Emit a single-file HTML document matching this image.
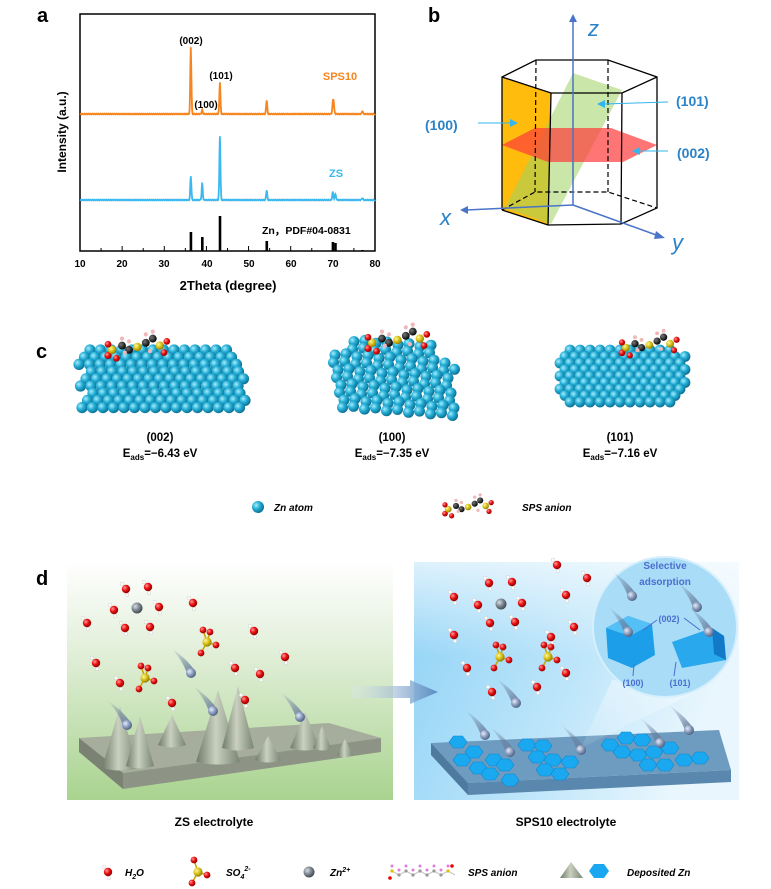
<!DOCTYPE html>
<html><head><meta charset="utf-8">
<style>
html,body{margin:0;padding:0;background:#fff;}
svg{display:block;font-family:"Liberation Sans",Arial,sans-serif;}
</style></head>
<body>
<svg id="s" width="771" height="889" viewBox="0 0 771 889" xmlns="http://www.w3.org/2000/svg">
<defs>
<radialGradient id="zn" cx="0.35" cy="0.35" r="0.7"><stop offset="0" stop-color="#a8ecfb"/><stop offset="0.45" stop-color="#26b0d8"/><stop offset="1" stop-color="#0a6a8c"/></radialGradient>
<radialGradient id="gz" cx="0.35" cy="0.35" r="0.7"><stop offset="0" stop-color="#d8dde4"/><stop offset="0.5" stop-color="#7f8892"/><stop offset="1" stop-color="#3c434c"/></radialGradient>
<radialGradient id="bz" cx="0.35" cy="0.35" r="0.7"><stop offset="0" stop-color="#e6ecf8"/><stop offset="0.5" stop-color="#8d9fc0"/><stop offset="1" stop-color="#4b5b7c"/></radialGradient>
<radialGradient id="ro" cx="0.35" cy="0.35" r="0.7"><stop offset="0" stop-color="#ff9a9a"/><stop offset="0.5" stop-color="#e81010"/><stop offset="1" stop-color="#8a0000"/></radialGradient>
<radialGradient id="ys" cx="0.35" cy="0.35" r="0.7"><stop offset="0" stop-color="#fff6a0"/><stop offset="0.5" stop-color="#d9c21a"/><stop offset="1" stop-color="#8a7a00"/></radialGradient>
<radialGradient id="bc" cx="0.35" cy="0.35" r="0.7"><stop offset="0" stop-color="#777"/><stop offset="1" stop-color="#000"/></radialGradient>
<linearGradient id="gbox" x1="0" y1="0" x2="0" y2="1"><stop offset="0" stop-color="#ffffff"/><stop offset="0.35" stop-color="#e4f0dc"/><stop offset="1" stop-color="#a9d38f"/></linearGradient>
<linearGradient id="bbox" x1="0" y1="0" x2="1" y2="0.3"><stop offset="0" stop-color="#8fd2f6"/><stop offset="0.6" stop-color="#bfe6fa"/><stop offset="1" stop-color="#e9f6fd"/></linearGradient>
<linearGradient id="bboxv" x1="0" y1="0" x2="0" y2="1"><stop offset="0" stop-color="#fff" stop-opacity="0.7"/><stop offset="0.4" stop-color="#fff" stop-opacity="0"/></linearGradient>
<linearGradient id="arr" x1="0" y1="0" x2="1" y2="0"><stop offset="0" stop-color="#dfe8f0" stop-opacity="0.3"/><stop offset="1" stop-color="#5c8cc0"/></linearGradient>
<linearGradient id="cone" x1="0" y1="0" x2="1" y2="0"><stop offset="0" stop-color="#6f7a68"/><stop offset="0.45" stop-color="#c9d0bf"/><stop offset="1" stop-color="#7a8573"/></linearGradient>
<linearGradient id="light" x1="0" y1="0" x2="0" y2="1"><stop offset="0" stop-color="#fff" stop-opacity="0.6"/><stop offset="1" stop-color="#fff" stop-opacity="0.1"/></linearGradient>
<linearGradient id="tail" x1="0" y1="0" x2="1" y2="1"><stop offset="0" stop-color="#6a7f9e" stop-opacity="0"/><stop offset="1" stop-color="#6a7f9e"/></linearGradient>
</defs>

<!-- ===== panel a ===== -->
<text x="37" y="22" font-size="20" font-weight="bold">a</text>
<rect x="80" y="14" width="295" height="237" fill="none" stroke="#000" stroke-width="1.5"/>
<g id="ticks" stroke="#000" stroke-width="1"></g>
<g font-size="10" font-weight="bold" text-anchor="middle">
<text x="80" y="267">10</text><text x="122" y="267">20</text><text x="164" y="267">30</text><text x="207" y="267">40</text><text x="249" y="267">50</text><text x="291" y="267">60</text><text x="333" y="267">70</text><text x="375" y="267">80</text>
</g>
<text x="228" y="290" font-size="13" font-weight="bold" text-anchor="middle">2Theta (degree)</text>
<text transform="translate(66,132) rotate(-90)" font-size="12" font-weight="bold" text-anchor="middle">Intensity (a.u.)</text>
<polyline id="po" fill="none" stroke="#f7851e" stroke-width="1.8"/>
<polyline id="pc" fill="none" stroke="#3ab8f0" stroke-width="1.8"/>
<g id="bars" fill="#000"></g>
<g font-size="10" font-weight="bold" text-anchor="middle">
<text x="191" y="44">(002)</text><text x="221" y="79">(101)</text><text x="206" y="108">(100)</text>
</g>
<text x="340" y="80" font-size="11" font-weight="bold" fill="#f7851e" text-anchor="middle">SPS10</text>
<text x="336" y="177" font-size="11" font-weight="bold" fill="#3ab8f0" text-anchor="middle">ZS</text>
<text x="262" y="234" font-size="10.5" font-weight="bold">Zn，PDF#04-0831</text>

<!-- ===== panel b ===== -->
<text x="428" y="22" font-size="20" font-weight="bold">b</text>
<polygon points="502,77 551,93 548,225 502,210" fill="#ffb800" opacity="0.95"/>
<polygon points="573,73 622,90 551,224 505,208" fill="#9ed163" opacity="0.55"/>
<polygon points="502,145 535,128 611,128 657,145 623,162 548,162" fill="#ff3a3a" opacity="0.7"/>
<g fill="none" stroke="#000" stroke-width="1.3">
<polyline points="502,210 548,225 621,224 657,208 657,77 608,60 536,60 502,77 502,210"/>
<polyline points="502,77 551,93 622,93 657,77"/>
<line x1="551" y1="93" x2="548" y2="225"/><line x1="622" y1="93" x2="621" y2="224"/>
</g>
<g fill="none" stroke="#000" stroke-width="1.2" stroke-dasharray="5,3">
<line x1="536" y1="60" x2="535" y2="192"/><line x1="608" y1="60" x2="608" y2="192"/>
<polyline points="502,210 535,192 608,192 657,208"/>
</g>
<g stroke="#4a74c8" stroke-width="1.5" fill="#4a74c8">
<line x1="573" y1="205" x2="573" y2="20"/><polygon points="573,14 569,22 577,22" stroke="none"/>
<line x1="573" y1="205" x2="466" y2="210"/><polygon points="460,210 468,206 468,214" stroke="none"/>
<line x1="573" y1="205" x2="659" y2="236"/><polygon points="665,238 656,231 654,239" stroke="none"/>
</g>
<g font-size="22" font-style="italic" fill="#2a82c8"><text x="588" y="36">z</text><text x="440" y="225">x</text><text x="672" y="250">y</text></g>
<g font-size="14" font-weight="bold" fill="#2a82c8"><text x="425" y="130">(100)</text><text x="676" y="106">(101)</text><text x="677" y="158">(002)</text></g>
<g stroke="#33b5ee" stroke-width="1" fill="#33b5ee">
<line x1="478" y1="123" x2="512" y2="123"/><polygon points="518,123 510,119 510,127" stroke="none"/>
<line x1="668" y1="102" x2="604" y2="104"/><polygon points="597,104 605,100 605,108" stroke="none"/>
<line x1="668" y1="151" x2="638" y2="151"/><polygon points="632,151 640,147 640,155" stroke="none"/>
</g>

<!-- ===== panel c ===== -->
<text x="36" y="358" font-size="20" font-weight="bold">c</text>
<g id="cl"></g>
<g font-size="11.5" font-weight="bold" text-anchor="middle">
<text x="160" y="441">(002)</text><text x="392" y="441">(100)</text><text x="620" y="441">(101)</text>
<text x="160" y="457">E<tspan font-size="8" dy="3">ads</tspan><tspan dy="-3">=−6.43 eV</tspan></text>
<text x="392" y="457">E<tspan font-size="8" dy="3">ads</tspan><tspan dy="-3">=−7.35 eV</tspan></text>
<text x="620" y="457">E<tspan font-size="8" dy="3">ads</tspan><tspan dy="-3">=−7.16 eV</tspan></text>
</g>
<circle cx="258" cy="507" r="6" fill="url(#zn)"/>
<text x="274" y="511" font-size="10" font-style="italic" font-weight="bold">Zn atom</text>
<g id="legsps"></g>
<text x="522" y="511" font-size="10" font-style="italic" font-weight="bold">SPS anion</text>

<!-- ===== panel d ===== -->
<text x="36" y="585" font-size="20" font-weight="bold">d</text>
<rect x="67" y="562" width="326" height="238" fill="url(#gbox)"/>
<rect x="414" y="562" width="325" height="238" fill="url(#bbox)"/>
<rect x="414" y="562" width="325" height="238" fill="url(#bboxv)"/>
<polygon points="352,686 410,686 410,680 438,692 410,704 410,698 352,698" fill="url(#arr)"/>
<!-- left substrate -->
<polygon points="79,738 329,723 381,738 123,773" fill="#a6ad9c"/>
<polygon points="123,773 381,738 381,752 123,789" fill="#8d9485"/>
<polygon points="79,738 123,773 123,789 79,752" fill="#7b8273"/>
<g id="cones"></g>
<!-- right substrate -->
<polygon points="431,743 719,730 731,770 468,783" fill="#6d9cc0"/>
<polygon points="468,783 731,770 731,782 468,795" fill="#5a87ad"/>
<polygon points="431,743 468,783 468,795 431,755" fill="#4f7aa0"/>
<g id="hexes"></g>
<!-- inset -->
<polygon points="612,680 700,690 581,748" fill="url(#light)" opacity="0.7"/>
<ellipse cx="665" cy="627" rx="72" ry="70" fill="#a9dcf7" stroke="#d5effc" stroke-width="2"/>
<polygon points="606,628 628,616 652,624 655,655 632,668 608,658" fill="#1c9fe8"/>
<polygon points="606,628 628,616 652,624 630,636" fill="#55c0f5"/>
<polygon points="672,642 712,628 724,636 726,660 682,668" fill="#2aa8ee"/>
<polygon points="712,628 724,636 726,660 714,654" fill="#1279c8"/>
<g fill="#4a6fd0" font-size="10" text-anchor="middle" font-weight="bold">
<text x="665" y="569">Selective</text><text x="665" y="585">adsorption</text>
<text x="669" y="622" font-size="9">(002)</text><text x="633" y="686" font-size="9">(100)</text><text x="680" y="686" font-size="9">(101)</text>
</g>
<g stroke="#4a6fd0" stroke-width="1" fill="none"><line x1="657" y1="620" x2="643" y2="630"/><line x1="684" y1="618" x2="700" y2="630"/><line x1="633" y1="676" x2="634" y2="664"/><line x1="674" y1="676" x2="676" y2="662"/></g>
<g id="mol"></g>
<g font-size="12" font-weight="bold" text-anchor="middle"><text x="214" y="826">ZS electrolyte</text><text x="566" y="826">SPS10 electrolyte</text></g>
<g font-size="10" font-style="italic" font-weight="bold">
<text x="125" y="876">H<tspan font-size="7" dy="3">2</tspan><tspan dy="-3">O</tspan></text>
<text x="226" y="876">SO<tspan font-size="7" dy="3">4</tspan><tspan font-size="7" dy="-8">2-</tspan></text>
<text x="330" y="876">Zn<tspan font-size="7" dy="-4">2+</tspan></text>
<text x="468" y="876">SPS anion</text>
<text x="627" y="876">Deposited Zn</text>
</g>
<polygon points="560,878 571,862 583,878" fill="url(#cone)"/>
<polygon points="594,864 604,864 609,871 604,878 594,878 589,871" fill="#19a7ef"/>
</svg>
<script>
var S=document.getElementById('s'),NS='http://www.w3.org/2000/svg';
function el(p,t,a){var e=document.createElementNS(NS,t);for(var k in a)e.setAttribute(k,a[k]);p.appendChild(e);return e;}
function X(d){return 80+(d-10)*4.214;}
// ticks
var tk=document.getElementById('ticks');
for(var d=10;d<=80;d+=5){el(tk,'line',{x1:X(d),y1:251,x2:X(d),y2:d%10?248:246});}
function pattern(base,peaks){var pts=[];for(var d=10;d<=80;d+=0.1){var y=base;peaks.forEach(function(p){var w=p[2]||0.18;y-=p[1]*Math.exp(-Math.pow((d-p[0])/w,2));});y+=Math.sin(d*13)*0.4;pts.push(X(d).toFixed(1)+','+y.toFixed(1));}return pts.join(' ');}
document.getElementById('po').setAttribute('points',pattern(114,[[36.3,67],[39,4],[43.2,32],[54.3,14],[70.1,15,0.25],[77,3]]));
document.getElementById('pc').setAttribute('points',pattern(200,[[36.3,24],[39,17],[43.2,64],[54.3,10],[70,8,0.2],[70.6,6,0.2],[77,2]]));
var bars=document.getElementById('bars');
[[36.3,19],[39,14],[43.2,35],[54.3,10],[70,9],[70.6,8],[77,1]].forEach(function(b){el(bars,'rect',{x:X(b[0])-1.2,y:251-b[1],width:2.6,height:b[1]});});
// clusters
var cl=document.getElementById('cl');
function sph(p,x,y,r,f){el(p,'circle',{cx:x,cy:y,r:r,fill:'url(#'+f+')'});}
// cluster1 (002)
for(var j=0;j<9;j++){var y=350+j*7.2;var x0=90-(j%3)*6+j*0.5, x1=248-(j<3?20-j*6:0);for(var x=x0;x<=x1;x+=10.5){sph(cl,x,y,5.6,'zn');}}
// cluster2 (100)
for(var j=0;j<10;j++){for(var i=0;i<12;i++){var x=332+i*11+j*1.5-(j%2)*3,y=340+j*7.5+(i*0.8)-(i%2)*2;if(x>455||(j<2&&(i<2||i>9)))continue;sph(cl,x,y,5.5,'zn');}}
// cluster3 (101)
for(var j=0;j<9;j++){for(var i=0;i<13;i++){var x=560+i*10+(j%2)*5,y=350+j*6.5;var dx=Math.abs(x-620)/70,dy=(y-375)/35;if(dx*dx+dy*dy>1.15)continue;sph(cl,x,y,5.4,'zn');}}
function sps(p,x,y,s){var a=[[0,6,'ro',2.6],[3,2,'ys',3],[0,-2,'ro',2.4],[6,8,'ro',2.4],[10,-1,'bc',2.8],[15,2,'bc',2.8],[21,0,'ys',3],[27,-3,'bc',2.8],[32,-6,'bc',2.8],[37,-1,'ys',3],[42,-4,'ro',2.4],[40,4,'ro',2.4]];
a.forEach(function(q){el(p,'circle',{cx:x+q[0]*s,cy:y+q[1]*s,r:q[3]*s,fill:'url(#'+q[2]+')'});});
[[10,-6],[15,-4],[27,-9],[32,-11],[12,4],[30,3]].forEach(function(q){el(p,'circle',{cx:x+q[0]*s,cy:y+q[1]*s,r:1.5*s,fill:'#f0b8b8'});});}
sps(cl,108,347,1.4);sps(cl,368,340,1.4);sps(cl,622,345,1.3);
sps(document.getElementById('legsps'),445,507,1.1);
// cones
var cn=document.getElementById('cones');
[[120,768,18,62],[140,766,14,50],[172,745,14,30],[218,762,22,72],[238,748,16,62],[268,760,13,24],[305,748,15,36],[322,748,9,22],[345,755,8,16]].forEach(function(c){el(cn,'path',{d:'M'+(c[0]-c[2])+','+c[1]+' L'+c[0]+','+(c[1]-c[3])+' L'+(c[0]+c[2])+','+c[1]+' Q'+c[0]+','+(c[1]+5)+' '+(c[0]-c[2])+','+c[1]+'Z',fill:'url(#cone)'});});
// hexes
var hx=document.getElementById('hexes');
function hex(p,x,y){var w=9,h=6;el(p,'polygon',{points:[[x-w,y],[x-w/2,y-h],[x+w/2,y-h],[x+w,y],[x+w/2,y+h],[x-w/2,y+h]].map(function(q){return q.join(',')}).join(' '),fill:'#1aa9f0',stroke:'#0e86cc','stroke-width':0.6});}
[[458,742],[474,752],[462,760],[478,768],[494,760],[490,774],[505,765],[510,780],[527,745],[543,746],[537,757],[553,760],[545,770],[560,774],[570,762],[610,745],[626,738],[642,740],[622,752],[638,755],[654,752],[670,748],[648,765],[665,765],[684,760],[700,758]].forEach(function(h){hex(hx,h[0],h[1]);});
// molecules
var m=document.getElementById('mol');
function water(x,y){el(m,'circle',{cx:x-4,cy:y-5,r:1.8,fill:'#fff',stroke:'#bbb','stroke-width':0.4});el(m,'circle',{cx:x+1,cy:y+6,r:1.8,fill:'#fff',stroke:'#bbb','stroke-width':0.4});el(m,'circle',{cx:x,cy:y,r:4.2,fill:'url(#ro)'});}
function so4(x,y){[[-4,-12],[3,-10],[9,3],[-6,11]].forEach(function(q){el(m,'line',{x1:x,y1:y,x2:x+q[0],y2:y+q[1],stroke:'#c9a400','stroke-width':1.5});el(m,'circle',{cx:x+q[0],cy:y+q[1],r:3.4,fill:'url(#ro)'});});el(m,'circle',{cx:x,cy:y,r:4.6,fill:'url(#ys)'});}
function zn(x,y,t){if(t){el(m,'path',{d:'M'+(x-4)+','+y+' Q'+(x-10)+','+(y-15)+' '+(x-20)+','+(y-25)+' Q'+(x-4)+','+(y-14)+' '+(x+4)+','+(y-2)+'Z',fill:'url(#tail)'});el(m,'circle',{cx:x,cy:y,r:5,fill:'url(#bz)'});}else el(m,'circle',{cx:x,cy:y,r:5.5,fill:'url(#gz)'});}
[[126,589],[148,587],[114,610],[159,607],[193,603],[87,623],[125,628],[150,627],[254,631],[285,657],[96,663],[235,668],[260,674],[120,683],[172,703],[245,700],
[557,565],[587,578],[489,583],[512,582],[454,597],[478,605],[522,603],[566,595],[490,623],[515,622],[454,635],[574,627],[551,637],[467,668],[566,673],[492,692],[537,687]].forEach(function(w){water(w[0],w[1]);});
so4(207,642);so4(145,678);so4(500,657);so4(548,657);
zn(137,608);zn(501,604);
[[191,673],[213,711],[127,725],[300,717],[516,703],[485,735],[510,752],[581,750],[660,743],[689,730],[632,596],[697,607],[628,632],[709,632]].forEach(function(z){zn(z[0],z[1],1);});
// legend
water(108,872);
(function(){var x=198,y=872;[[-4,-12],[9,3],[-6,11]].forEach(function(q){el(m,'line',{x1:x,y1:y,x2:x+q[0],y2:y+q[1],stroke:'#c9a400','stroke-width':1.5});el(m,'circle',{cx:x+q[0],cy:y+q[1],r:3.4,fill:'url(#ro)'});});el(m,'circle',{cx:x,cy:y,r:4.6,fill:'url(#ys)'});})();
el(m,'circle',{cx:309,cy:872,r:5.5,fill:'url(#gz)'});
for(var i=0;i<9;i++){var x=392+i*7,y=872+(i%2?3:-1);el(m,'line',{x1:x,y1:y,x2:x+7,y2:872+((i+1)%2?3:-1),stroke:'#bbb','stroke-width':1});el(m,'circle',{cx:x,cy:y-5,r:1.5,fill:'#e07de0'});el(m,'circle',{cx:x,cy:y,r:1.6,fill:i==0||i==8?'#e0c000':'#999'});}
el(m,'circle',{cx:390,cy:878,r:1.8,fill:'#e00'});el(m,'circle',{cx:452,cy:866,r:1.8,fill:'#e00'});
</script>
</body></html>
